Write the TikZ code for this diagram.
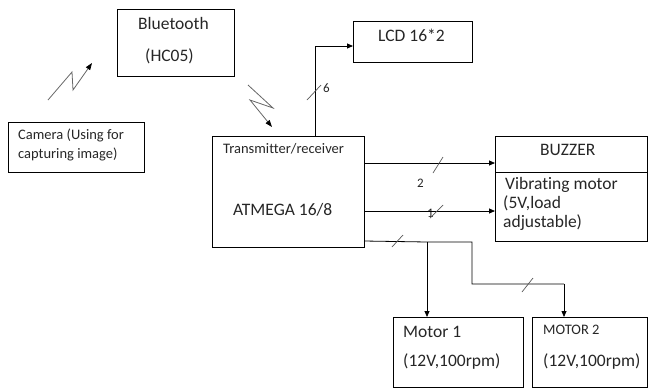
\documentclass[tikz,border=0pt]{standalone}
\usepackage{fontspec}
\setmainfont[Ligatures=NoCommon]{Carlito}
\usetikzlibrary{arrows.meta}
\begin{document}
\begin{tikzpicture}[x=1pt,y=-1pt,
  box/.style={draw, line width=0.8pt, inner sep=0pt, anchor=north west},
  big/.style={anchor=base west, inner sep=0pt, font=\fontsize{17.5}{20}\selectfont, text=black!85},
  mid/.style={anchor=base west, inner sep=0pt, font=\fontsize{14.5}{17}\selectfont, text=black!85},
  small/.style={anchor=base west, inner sep=0pt, font=\fontsize{13}{15}\selectfont, text=black!85},
  conn/.style={line width=0.8pt, -{Triangle[length=6pt,width=5pt]}},
  wire/.style={line width=0.8pt},
  tick/.style={line width=0.7pt, black!65},
  zig/.style={line width=0.8pt, black!60, -{Triangle[length=7pt,width=5pt,color=black]}}
]
\useasboundingbox (0,0) rectangle (653,389);
% boxes
\node[box, minimum width=117pt, minimum height=67pt] (bt) at (117,9) {};
\node[box, minimum width=136pt, minimum height=50pt] (cam) at (8,122) {};
\node[box, minimum width=152pt, minimum height=111pt] (tr) at (212,136) {};
\node[box, minimum width=119pt, minimum height=41pt] (lcd) at (353,21) {};
\node[box, minimum width=152pt, minimum height=105pt] (buz) at (495,136) {};
\node[box, minimum width=130pt, minimum height=70pt] (m1) at (393,317) {};
\node[box, minimum width=115pt, minimum height=70pt] (m2) at (532,317) {};
\coordinate (dl) at (495,172);
\coordinate (dr) at (647,172);
\draw[wire] (dl) -- (dr);
% texts
\node[big] (t1) at (138,29) {Bluetooth};
\node[big] (t2) at (145,61) {(HC05)};
\node[mid] (t3) at (18,139) {Camera (Using for};
\node[mid] (t4) at (18,158) {capturing image)};
\node[mid] (t5) at (223,153) {Transmitter/receiver};
\node[big] (t6) at (233,215) {ATMEGA 16/8};
\node[big] (t7) at (378,41) {LCD 16*2};
\node[big] (t8) at (540,155) {BUZZER};
\node[big] (t9) at (505,189) {Vibrating motor};
\node[big] (t10) at (503,208) {(5V,load};
\node[big] (t11) at (503,227) {adjustable)};
\node[big] (t12) at (403,337) {Motor 1};
\node[big] (t13) at (403,366) {(12V,100rpm)};
\node[mid] (t14) at (543,334) {MOTOR 2};
\node[big] (t15) at (543,366) {(12V,100rpm)};
\node[small] (n6) at (323,92) {6};
\node[small] (n2) at (417,187) {2};
\node[small] (n1) at (427,217) {1};
% connectors
\coordinate (lcdc) at (315,46);
\draw[conn] (tr.north -| lcdc) -- (lcdc) -- (lcd.west |- lcdc);
\coordinate (a1) at (364,163);
\coordinate (a2) at (364,211);
\draw[conn] (a1) -- (buz.west |- a1);
\draw[conn] (a2) -- (buz.west |- a2);
\coordinate (b0) at (364,241);
\coordinate (b1) at (427,242);
\coordinate (b2) at (472,242);
\coordinate (b3) at (472,284);
\coordinate (b4) at (564,284);
\draw[wire] (b0) -- (b1) -- (b2) -- (b3) -- (b4);
\draw[conn] (b1) -- (m1.north -| b1);
\draw[conn] (b4) -- (m2.north -| b4);
% ticks
\draw[tick] (307,100) -- (321,85);
\draw[tick] (433,173) -- (443,157);
\draw[tick] (430,218) -- (443,205);
\draw[tick] (392,247) -- (403,235);
\draw[tick] (522,292) -- (533,278);
% wireless zigzags
\coordinate (z1a) at (48,100);
\coordinate (z1b) at (72,72);
\coordinate (z1c) at (73,90);
\coordinate (z1d) at (92,63);
\draw[zig] (z1a) -- (z1b) -- (z1c) -- (z1d);
\coordinate (z2a) at (248,85);
\coordinate (z2b) at (273,108);
\coordinate (z2c) at (250,100);
\coordinate (z2d) at (272,127);
\draw[zig] (z2a) -- (z2b) -- (z2c) -- (z2d);
\end{tikzpicture}
\end{document}
